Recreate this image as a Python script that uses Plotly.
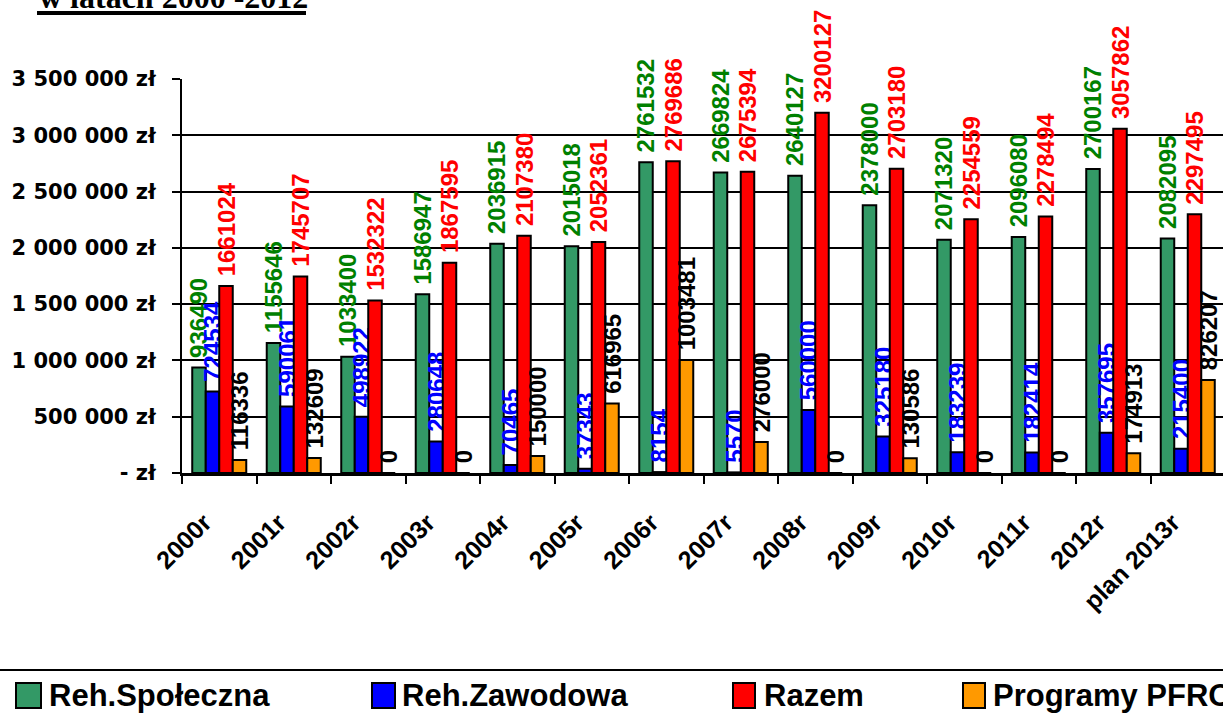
import plotly.graph_objects as go

categories = ["2000r", "2001r", "2002r", "2003r", "2004r", "2005r", "2006r",
              "2007r", "2008r", "2009r", "2010r", "2011r", "2012r", "plan 2013r"]
reh_spoleczna = [936490, 1155646, 1033400, 1586947, 2036915, 2015018, 2761532,
                 2669824, 2640127, 2378000, 2071320, 2096080, 2700167, 2082095]
reh_zawodowa = [724534, 590061, 498922, 280648, 70465, 37343, 8154,
                5570, 560000, 325180, 183239, 182414, 357695, 215400]
razem = [1661024, 1745707, 1532322, 1867595, 2107380, 2052361, 2769686,
         2675394, 3200127, 2703180, 2254559, 2278494, 3057862, 2297495]
programy_pfron = [116336, 132609, 0, 0, 150000, 616965, 1003481,
                  276000, 0, 130586, 0, 0, 174913, 826207]
series_names = ["Reh.Społeczna", "Reh.Zawodowa", "Razem", "Programy PFRON"]
ytick_vals = [0, 500000, 1000000, 1500000, 2000000, 2500000, 3000000, 3500000]
ytick_text = ["- zł", "500 000 zł", "1 000 000 zł", "1 500 000 zł",
              "2 000 000 zł", "2 500 000 zł", "3 000 000 zł", "3 500 000 zł"]
title_text = "w latach 2000 -2012"

bar_colors = ["#339966", "#0000FF", "#FF0000", "#FF9900"]
label_colors = ["#008000", "#0000FF", "#FF0000", "#000000"]

W, H = 1223, 718
L, R, T, B = 182, 0, 79, 245
PW = W - L - R
PH = H - T - B


def px_x(x):
    return (x - L) / PW


def px_y(y):
    return (H - B - y) / PH


fig = go.Figure()
for name, vals, bc, lc in zip(series_names,
                              [reh_spoleczna, reh_zawodowa, razem, programy_pfron],
                              bar_colors, label_colors):
    fig.add_trace(go.Bar(
        x=categories, y=vals, name=name,
        marker=dict(color=bc, line=dict(color="black", width=2)),
        text=[" " + str(v) for v in vals],
        textposition="outside", textangle=-90,
        textfont=dict(family="Liberation Sans", size=24, color=lc, weight="bold"),
        constraintext="none", cliponaxis=False, showlegend=False,
    ))
# empty helper trace so the overlaying axis (inner tick halves) is drawn
fig.add_trace(go.Scatter(x=[], y=[], yaxis="y2", showlegend=False, hoverinfo="skip"))

fig.update_layout(
    width=W, height=H,
    margin=dict(l=L, r=R, t=T, b=B, pad=0),
    paper_bgcolor="white", plot_bgcolor="white",
    barmode="group", bargap=0.275, bargroupgap=0,
    showlegend=False,
    font=dict(family="Liberation Sans", color="black"),
)
fig.update_xaxes(
    range=[-0.5, -0.5 + PW / 74.5],
    showline=True, linecolor="black", linewidth=3,
    ticks="outside", tickson="boundaries", ticklen=8, tickwidth=2, tickcolor="black",
    tickangle=-45, ticklabelstandoff=22, ticklabelshift=-15,
    tickfont=dict(family="Liberation Sans", size=25, weight="bold", color="black"),
    showgrid=False, zeroline=False,
)
fig.update_layout(yaxis=dict(
    range=[0, 3500000],
    tickvals=ytick_vals, ticktext=ytick_text,
    showline=True, linecolor="black", linewidth=2,
    ticks="outside", ticklen=8, tickwidth=2, tickcolor="black",
    ticklabelstandoff=12,
    tickfont=dict(family="DejaVu Sans", size=21, weight="bold", color="black"),
    showgrid=True, gridcolor="black", gridwidth=2, zeroline=False,
))
fig.update_layout(yaxis2=dict(
    overlaying="y", side="left", range=[0, 3500000],
    tickvals=ytick_vals, showticklabels=False,
    ticks="inside", ticklen=8, tickwidth=2, tickcolor="black",
    showgrid=False, showline=False, zeroline=False,
))

shapes = []
annotations = []
# title (partly cut at top) with underline
annotations.append(dict(
    xref="paper", yref="paper", x=px_x(37), y=px_y(-3), xanchor="left", yanchor="middle",
    text=f"<b>{title_text}</b>", showarrow=False,
    font=dict(family="Liberation Serif", size=32, color="black"),
))
shapes.append(dict(type="line", xref="paper", yref="paper",
                   x0=px_x(37), x1=px_x(306), y0=px_y(13), y1=px_y(13),
                   line=dict(color="black", width=4)))
# legend top border
shapes.append(dict(type="line", xref="paper", yref="paper",
                   x0=px_x(0), x1=px_x(W + 5), y0=px_y(670), y1=px_y(670),
                   line=dict(color="black", width=2)))
legend_sq = [(16, 41), (372, 395), (733, 755), (963, 985)]
legend_tx = [47, 400, 762, 991]
for (x0, x1), tx, name, bc in zip(legend_sq, legend_tx, series_names, bar_colors):
    shapes.append(dict(type="rect", xref="paper", yref="paper",
                       x0=px_x(x0), x1=px_x(x1), y0=px_y(708), y1=px_y(683),
                       fillcolor=bc, line=dict(color="black", width=2)))
    annotations.append(dict(
        xref="paper", yref="paper", x=px_x(tx), y=px_y(695),
        xanchor="left", yanchor="middle", text=f"<b>{name}</b>", showarrow=False,
        font=dict(family="Liberation Sans", size=31, color="black"),
    ))
fig.update_layout(shapes=shapes, annotations=annotations)

fig.write_html("out.html", config={"displayModeBar": False},
               post_script="document.body.style.margin='0';")
